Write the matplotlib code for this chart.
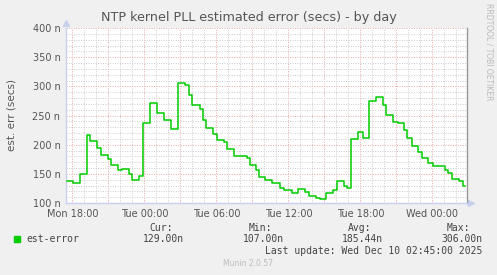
import matplotlib
matplotlib.use('Agg')
import matplotlib.pyplot as plt
from matplotlib.patches import Rectangle

# hours after Mon 18:00 where each step begins, and value (nanoseconds)
hours = [-0.48, 0.02, 0.63, 1.18, 1.46, 2.02, 2.35, 2.93, 3.18, 3.77, 4.10, 4.70,
         5.00, 5.54, 5.85, 6.46, 7.02, 7.63, 8.20, 8.82, 9.38, 9.73, 9.98, 10.63,
         10.90, 11.10, 11.68, 12.07, 12.63, 12.90, 13.46, 14.57, 14.79, 15.29, 15.57, 16.04,
         16.65, 17.29, 17.65, 18.27, 18.82, 19.38, 19.73, 20.29, 20.63, 21.13, 21.73, 22.07,
         22.63, 22.90, 23.18, 23.82, 24.18, 24.71, 25.27, 25.85, 26.13, 26.73, 27.10, 27.65,
         27.85, 28.27, 28.82, 29.10, 29.65, 30.02, 31.04, 31.32, 31.65, 32.23, 32.57, 32.75]
est_error = [138, 135, 150, 216, 206, 194, 182, 175, 166, 157, 158, 149,
             139, 147, 237, 271, 255, 242, 227, 306, 302, 285, 268, 261,
             243, 229, 218, 208, 205, 192, 180, 177, 166, 157, 145, 139,
             134, 125, 122, 117, 124, 119, 112, 108, 107, 118, 122, 138,
             129, 125, 209, 221, 211, 275, 282, 268, 251, 239, 237, 225,
             211, 198, 188, 178, 169, 163, 157, 151, 142, 137, 129, 129]

xtick_hours = [0, 6, 12, 18, 24, 30]
xtick_labels = ['Mon 18:00', 'Tue 00:00', 'Tue 06:00', 'Tue 12:00', 'Tue 18:00', 'Wed 00:00']
ytick_vals = [100, 150, 200, 250, 300, 350, 400]

stat_names = ['Cur:', 'Min:', 'Avg:', 'Max:']
stat_values = ['129.00n', '107.00n', '185.44n', '306.00n']

W, H = 497, 275
fig = plt.figure(figsize=(W / 100, H / 100), dpi=100, facecolor='#F0F0F0')
ax = fig.add_axes([66 / W, 72 / H, 401 / W, 175 / H])
ax.set_facecolor('white')

def fx(x):
    return x / W

def fy(y):
    return 1 - y / H

# grid
dots = (0, (1, 1.5))
for h in range(0, 33):
    c = '#E8A8A8' if h % 3 == 0 else '#CCCCCC'
    ax.axvline(h, color=c, lw=0.7, ls=dots, zorder=1)
for v in range(110, 401, 10):
    c = '#E8A8A8' if v % 50 == 0 else '#CCCCCC'
    ax.axhline(v, color=c, lw=0.7, ls=dots, zorder=1)

ax.step(hours, est_error, where='post', color='#00CC00', lw=1.1, zorder=3)

ax.set_xlim(-0.54, 32.88)
ax.set_ylim(100, 400)
ax.set_xticks(xtick_hours)
ax.set_xticklabels(xtick_labels)
ax.set_yticks(ytick_vals)
ax.set_yticklabels(['%d n' % v for v in ytick_vals])
ax.tick_params(length=0, labelsize=7, colors='#555555', pad=4)

ax.spines['top'].set_visible(False)
ax.spines['left'].set_color('#C8D0F0')
ax.spines['bottom'].set_color('#C8D0F0')
ax.spines['right'].set_color('#999999')
for s in ax.spines.values():
    s.set_linewidth(1)

# axis arrows
ax.plot([0], [1.03], marker='^', ms=4, color='#C8D0F0', transform=ax.transAxes, clip_on=False)
ax.plot([1.01], [0], marker='>', ms=4, color='#C8D0F0', transform=ax.transAxes, clip_on=False)

fig.text(fx(249), fy(17), 'NTP kernel PLL estimated error (secs) - by day',
         ha='center', va='center', fontsize=9.2, color='#555555')
fig.text(fx(12), fy(115), 'est. err (secs)', rotation=90, ha='center', va='center',
         fontsize=7.5, color='#555555')
fig.text(fx(489), fy(52), 'RRDTOOL / TOBI OETIKER', rotation=270, ha='center', va='center',
         fontsize=5.5, color='#BBBBBB')

# legend
fig.patches.append(Rectangle((fx(14), fy(242)), 6 / W, 6 / H, transform=fig.transFigure,
                             color='#00CC00'))
mono = dict(family='DejaVu Sans Mono', fontsize=7, color='#444444', va='center')
fig.text(fx(26), fy(239), 'est-error', ha='left', **mono)
head_x = [173, 272, 371, 470]
val_x = [184, 284, 383, 482]
for name, val, hx, vx in zip(stat_names, stat_values, head_x, val_x):
    fig.text(fx(hx), fy(228), name, ha='right', **mono)
    fig.text(fx(vx), fy(239), val, ha='right', **mono)
fig.text(fx(482), fy(251), 'Last update: Wed Dec 10 02:45:00 2025', ha='right', **mono)
fig.text(fx(248), fy(264), 'Munin 2.0.57', ha='center', va='center', fontsize=5.5,
         color='#BBBBBB')

fig.savefig('out.png', dpi=100, facecolor=fig.get_facecolor())
